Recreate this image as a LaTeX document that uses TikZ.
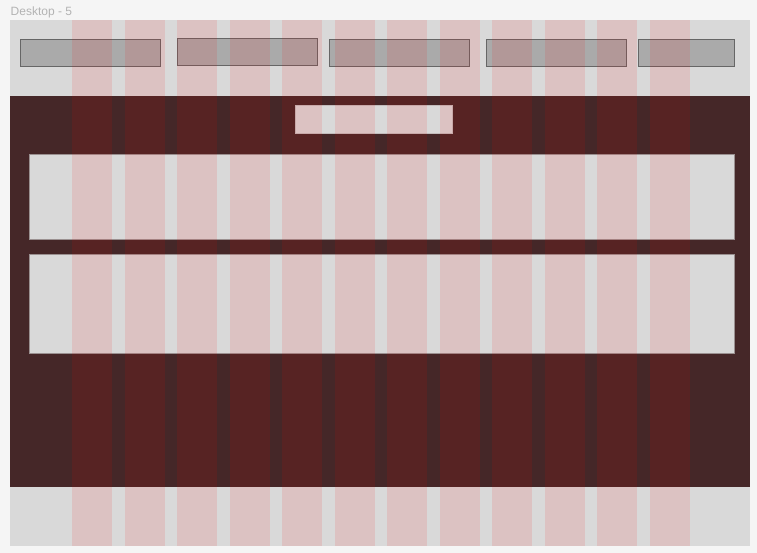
\documentclass[tikz,border=0pt]{standalone}
\usepackage{fontspec}
\setmainfont{Liberation Sans}
\definecolor{pagebg}{HTML}{F5F5F5}
\definecolor{framegray}{HTML}{D9D9D9}
\definecolor{darkbody}{HTML}{452728}
\definecolor{navgray}{HTML}{AAAAAA}
\definecolor{navedge}{HTML}{666666}
\definecolor{boxedge}{HTML}{9A9090}
\definecolor{labelgray}{HTML}{B3B3B3}
\tikzset{
  navbox/.style={fill=navgray, draw=navedge, line width=0.8pt},
  panelbox/.style={fill=framegray, draw=boxedge, line width=0.8pt},
  gridcol/.style={fill=red, fill opacity=0.1, draw=none},
}
\begin{document}
\begin{tikzpicture}[x=1pt,y=-1pt]
  % page background and bounding box
  \fill[pagebg] (0,0) rectangle (757,553);
  \useasboundingbox (0,0) rectangle (757,553);
  % frame label
  \node[anchor=base west, inner sep=0pt, text=labelgray, font=\fontsize{12}{14}\selectfont] (label) at (10.5,16) {Desktop - 5};
  % frame
  \fill[framegray] (10,20) rectangle (750,546);
  % dark body
  \fill[darkbody] (10,96) rectangle (750,487);
  % header nav boxes
  \path[navbox] (20,39) rectangle (160,66);
  \path[navbox] (177,38) rectangle (317,65);
  \path[navbox] (329,39) rectangle (469,66);
  \path[navbox] (486,39) rectangle (626,66);
  \path[navbox] (638,39) rectangle (734,66);
  % title box
  \path[fill=framegray, draw=boxedge!60!white, line width=0.8pt] (295,105) rectangle (452,133);
  % panels
  \path[panelbox] (29.5,154) rectangle (734.5,239);
  \path[panelbox] (29,254) rectangle (734.5,353);
  % layout grid columns
  \foreach \i in {0,...,11} {
    \fill[gridcol] ({72+52.5*\i},20) rectangle ({112+52.5*\i},546);
  }
\end{tikzpicture}
\end{document}
